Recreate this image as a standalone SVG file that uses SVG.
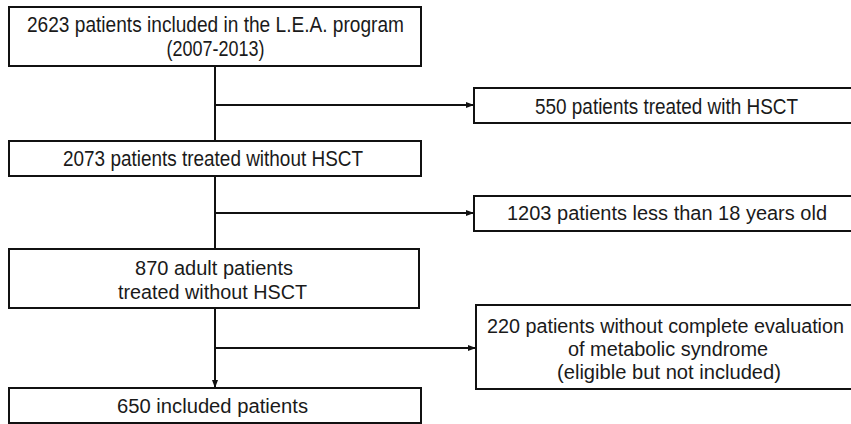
<svg xmlns="http://www.w3.org/2000/svg" width="851" height="424" viewBox="0 0 851 424">
<defs>
<style>
.box{fill:#fff;stroke:#111;stroke-width:2}
.t{font-family:"Liberation Sans",Arial,sans-serif;font-size:20px;fill:#1a1a1a;text-anchor:middle}
.n{font-size:22px}
.c{fill:none;stroke:#111;stroke-width:2}
</style>
<marker id="ah" viewBox="0 0 8 8" refX="8" refY="4" markerWidth="8" markerHeight="8" markerUnits="userSpaceOnUse" orient="auto">
<path d="M0,1 L8,4 L0,7 Z" fill="#111"/>
</marker>
</defs>
<rect width="851" height="424" fill="#fff"/>
<g id="connectors">
<line class="c" x1="215" y1="66" x2="215" y2="141"/>
<line class="c" x1="215" y1="105" x2="474" y2="105" marker-end="url(#ah)"/>
<line class="c" x1="215" y1="176" x2="215" y2="249"/>
<line class="c" x1="215" y1="213" x2="474" y2="213" marker-end="url(#ah)"/>
<line class="c" x1="215" y1="308" x2="215" y2="388" marker-end="url(#ah)"/>
<line class="c" x1="215" y1="348" x2="476" y2="348" marker-end="url(#ah)"/>
</g>
<g id="n1">
<rect class="box" x="9" y="7" width="412" height="59"/>
<text class="t n" x="215.5" y="32" textLength="377" lengthAdjust="spacingAndGlyphs">2623 patients included in the L.E.A. program</text>
<text class="t n" x="215.5" y="56" textLength="98" lengthAdjust="spacingAndGlyphs">(2007-2013)</text>
</g>
<g id="n2">
<rect class="box" x="474" y="88" width="390" height="35"/>
<text class="t n" x="666.5" y="114" textLength="263" lengthAdjust="spacingAndGlyphs">550 patients treated with HSCT</text>
</g>
<g id="n3">
<rect class="box" x="9" y="141" width="412" height="35"/>
<text class="t n" x="213" y="166" textLength="300" lengthAdjust="spacingAndGlyphs">2073 patients treated without HSCT</text>
</g>
<g id="n4">
<rect class="box" x="474" y="196" width="390" height="35"/>
<text class="t" x="667" y="220" textLength="320" lengthAdjust="spacingAndGlyphs">1203 patients less than 18 years old</text>
</g>
<g id="n5">
<rect class="box" x="9" y="249" width="410" height="59"/>
<text class="t" x="214" y="275" textLength="158" lengthAdjust="spacingAndGlyphs">870 adult patients</text>
<text class="t" x="212.5" y="299" textLength="189" lengthAdjust="spacingAndGlyphs">treated without HSCT</text>
</g>
<g id="n6">
<rect class="box" x="476" y="305" width="390" height="84"/>
<text class="t" x="665.5" y="333" textLength="357" lengthAdjust="spacingAndGlyphs">220 patients without complete evaluation</text>
<text class="t" x="668" y="356" textLength="200" lengthAdjust="spacingAndGlyphs">of metabolic syndrome</text>
<text class="t" x="669" y="379" textLength="224" lengthAdjust="spacingAndGlyphs">(eligible but not included)</text>
</g>
<g id="n7">
<rect class="box" x="9" y="388" width="412" height="35"/>
<text class="t" x="212.5" y="413" textLength="191" lengthAdjust="spacingAndGlyphs">650 included patients</text>
</g>
</svg>
